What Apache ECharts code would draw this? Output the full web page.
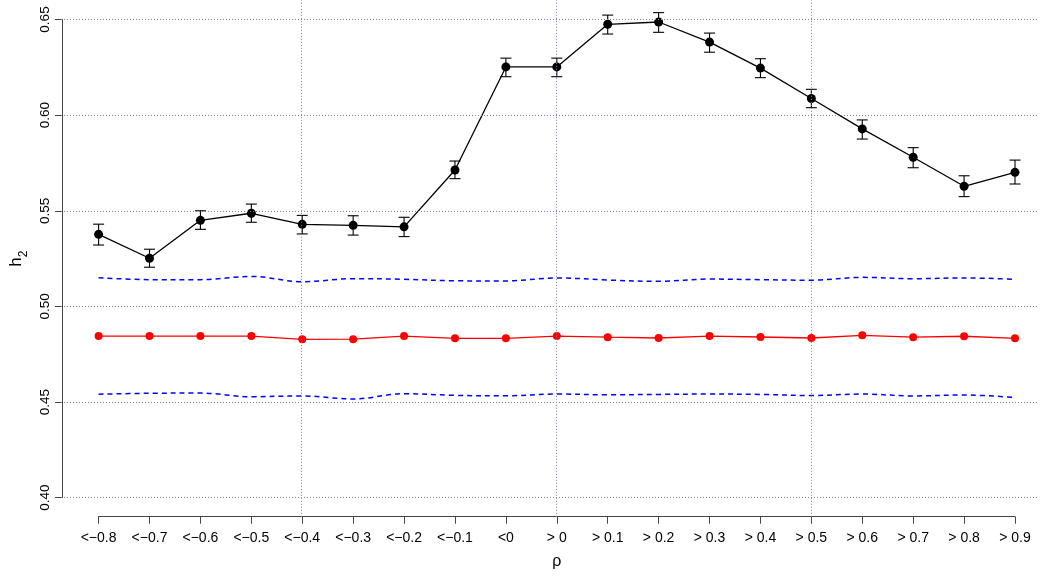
<!DOCTYPE html>
<html>
<head>
<meta charset="utf-8">
<title>h2 by rho</title>
<script src="https://cdn.jsdelivr.net/npm/echarts@6/dist/echarts.min.js"></script>
<style>
  html, body { margin: 0; padding: 0; background: #ffffff; }
  #chart { width: 1047px; height: 577px; }
</style>
</head>
<body>
<div id="chart"></div>
<script>
// Correlation bins along the x axis
const categories = [
  '<\u22120.8', '<\u22120.7', '<\u22120.6', '<\u22120.5', '<\u22120.4',
  '<\u22120.3', '<\u22120.2', '<\u22120.1', '<0', '> 0',
  '> 0.1', '> 0.2', '> 0.3', '> 0.4', '> 0.5',
  '> 0.6', '> 0.7', '> 0.8', '> 0.9'
];

// Estimated h2 per bin, with the ends of its error bar
const estimate = [0.5377, 0.5252, 0.5450, 0.5487, 0.5429, 0.5424, 0.5416, 0.5713, 0.6252, 0.6252,
                  0.6475, 0.6487, 0.6382, 0.6246, 0.6087, 0.5928, 0.5780, 0.5628, 0.5701];
const lower = [0.5321, 0.5205, 0.5403, 0.5440, 0.5379, 0.5373, 0.5365, 0.5668, 0.6201, 0.6201,
               0.6424, 0.6433, 0.6329, 0.6196, 0.6039, 0.5875, 0.5725, 0.5574, 0.5640];
const upper = [0.5430, 0.5299, 0.5500, 0.5535, 0.5476, 0.5474, 0.5466, 0.5760, 0.6298, 0.6298,
               0.6523, 0.6536, 0.6429, 0.6295, 0.6135, 0.5975, 0.5830, 0.5683, 0.5765];

// Baseline h2 per bin and its band
const baseline = [0.4845, 0.4845, 0.4845, 0.4845, 0.4828, 0.4829, 0.4845, 0.4833, 0.4833, 0.4845,
                  0.4839, 0.4835, 0.4845, 0.4840, 0.4835, 0.4849, 0.4839, 0.4844, 0.4833];
const bandUpper = [0.5150, 0.5140, 0.5140, 0.5157, 0.5129, 0.5145, 0.5142, 0.5134, 0.5133, 0.5149,
                   0.5138, 0.5131, 0.5143, 0.5140, 0.5137, 0.5152, 0.5145, 0.5149, 0.5142];
const bandLower = [0.4541, 0.4546, 0.4547, 0.4528, 0.4532, 0.4516, 0.4544, 0.4535, 0.4533, 0.4542,
                   0.4538, 0.4540, 0.4542, 0.4540, 0.4534, 0.4542, 0.4532, 0.4537, 0.4524];

// Reference lines
const yTicks = [0.40, 0.45, 0.50, 0.55, 0.60, 0.65];
const guideBins = [4, 9, 14];

const FONT = '"Liberation Sans", Arial, Helvetica, sans-serif';
const GUIDE = { color: '#7c7cb0', width: 1, type: [1, 2] };

const chart = echarts.init(document.getElementById('chart'), null, { renderer: 'canvas' });

const option = {
  backgroundColor: '#ffffff',
  animation: false,
  textStyle: { fontFamily: FONT },
  grid: [
    // full plotting region (guides)
    { left: 61, right: 10, top: 0.4, bottom: 60.2, containLabel: false },
    // data region between the first and last tick
    { left: 97.7, right: 32, top: 19.5, bottom: 79.3, containLabel: false }
  ],
  xAxis: [
    { gridIndex: 0, type: 'value', min: -0.72, max: 18.43, show: false },
    {
      gridIndex: 1, type: 'category', data: categories, boundaryGap: false, offset: 19,
      axisLine: { show: true, lineStyle: { color: '#444', width: 1 } },
      axisTick: { show: true, length: 7, interval: 0, lineStyle: { color: '#444' } },
      axisLabel: { interval: 0, margin: 14, fontSize: 14, color: '#000', fontFamily: FONT },
      splitLine: { show: false },
      name: '\u03c1', nameLocation: 'middle', nameGap: 37,
      nameTextStyle: { fontSize: 16, color: '#000', fontFamily: FONT }
    }
  ],
  yAxis: [
    { gridIndex: 0, type: 'value', min: 0.39, max: 0.66, show: false },
    {
      gridIndex: 1, type: 'value', min: 0.40, max: 0.65, interval: 0.05, offset: 36.7,
      axisLine: { show: true, lineStyle: { color: '#444', width: 1 } },
      axisTick: { show: true, length: 7, lineStyle: { color: '#444' } },
      axisLabel: {
        rotate: 90, margin: 10, fontSize: 13.5, color: '#000', fontFamily: FONT,
        formatter: v => v.toFixed(2)
      },
      splitLine: { show: false },
      name: '{h|h}{s|2}', nameLocation: 'middle', nameGap: 30, nameRotate: 90,
      nameTextStyle: {
        color: '#000', fontFamily: FONT,
        rich: {
          h: { fontSize: 17, verticalAlign: 'bottom', padding: [0, 0, 5, 0], color: '#000', fontFamily: FONT },
          s: { fontSize: 12, verticalAlign: 'bottom', color: '#000', fontFamily: FONT }
        }
      }
    }
  ],
  series: [
    {
      // dotted guide lines across the plotting region
      type: 'line', xAxisIndex: 0, yAxisIndex: 0, data: [], silent: true,
      markLine: {
        silent: true, symbol: ['none', 'none'], label: { show: false },
        lineStyle: GUIDE, animation: false,
        data: yTicks.map(v => ({ yAxis: v })).concat(guideBins.map(b => ({ xAxis: b })))
      }
    },
    {
      name: 'band upper', type: 'line', xAxisIndex: 1, yAxisIndex: 1,
      data: bandUpper, smooth: 0.35, showSymbol: false, symbol: 'none',
      lineStyle: { color: '#0000ff', width: 1.5, type: [5, 4] }
    },
    {
      name: 'band lower', type: 'line', xAxisIndex: 1, yAxisIndex: 1,
      data: bandLower, smooth: 0.35, showSymbol: false, symbol: 'none',
      lineStyle: { color: '#0000ff', width: 1.5, type: [5, 4] }
    },
    {
      name: 'baseline', type: 'line', xAxisIndex: 1, yAxisIndex: 1,
      data: baseline, symbol: 'circle', symbolSize: 8,
      itemStyle: { color: '#ff0000' },
      lineStyle: { color: '#ff0000', width: 1.3 }
    },
    {
      name: 'error bars', type: 'custom', xAxisIndex: 1, yAxisIndex: 1, clip: false, z: 3,
      data: categories.map((c, i) => [i, lower[i], upper[i]]),
      renderItem: function (params, api) {
        const lo = api.coord([api.value(0), api.value(1)]);
        const hi = api.coord([api.value(0), api.value(2)]);
        const cap = 5.5;
        const style = { stroke: '#000', lineWidth: 1.1, fill: null };
        return {
          type: 'group',
          children: [
            { type: 'line', shape: { x1: lo[0], y1: lo[1], x2: hi[0], y2: hi[1] }, style: style },
            { type: 'line', shape: { x1: lo[0] - cap, y1: lo[1], x2: lo[0] + cap, y2: lo[1] }, style: style },
            { type: 'line', shape: { x1: hi[0] - cap, y1: hi[1], x2: hi[0] + cap, y2: hi[1] }, style: style }
          ]
        };
      }
    },
    {
      name: 'estimate', type: 'line', xAxisIndex: 1, yAxisIndex: 1, z: 4,
      data: estimate, symbol: 'circle', symbolSize: 9,
      itemStyle: { color: '#000000' },
      lineStyle: { color: '#000000', width: 1.3 }
    }
  ]
};

chart.setOption(option);
</script>
</body>
</html>
